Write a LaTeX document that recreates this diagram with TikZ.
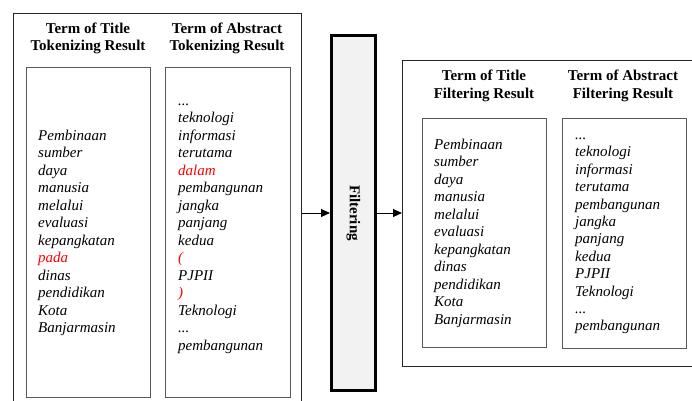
\documentclass[tikz,border=0pt]{standalone}
\usepackage{fontspec}
\setmainfont{Liberation Serif}
\usetikzlibrary{arrows.meta}
\newcommand\myopenpar{(}
\newcommand\myclosepar{)}
\newcommand\mydots{...}
\begin{document}
\begin{tikzpicture}[x=1pt,y=-1pt,
  outerbox/.style={draw=black!85,line width=1.1pt,anchor=north west,inner sep=0pt},
  listbox/.style={draw=black!65,line width=1.1pt,anchor=north west,inner sep=0pt},
  head/.style={font=\fontsize{15}{17.5}\selectfont\bfseries,anchor=base,inner sep=0pt},
  term/.style={font=\fontsize{15}{17.5}\selectfont\itshape,anchor=base west,inner sep=0pt},
  flow/.style={line width=1pt,-{Triangle[length=9pt,width=8pt]}}]
\useasboundingbox (0,0) rectangle (692,400);
\clip (0,0) rectangle (692,400);

% tokenizing stage
\node[outerbox,minimum width=288pt,minimum height=400pt] (tok) at (13,13) {};
\node[listbox,minimum width=124pt,minimum height=330pt] (tokT) at (26,67) {};
\node[listbox,minimum width=125pt,minimum height=330pt] (tokA) at (165,67) {};
\node[head] (hT1) at (88,33) {Term of Title};
\node[head] (hT2) at (88,50) {Tokenizing Result};
\node[head] (hA1) at (227,33) {Term of Abstract};
\node[head] (hA2) at (227,50) {Tokenizing Result};

\foreach \w/\c [count=\i from 0] in {Pembinaan/black,sumber/black,daya/black,
  manusia/black,melalui/black,evaluasi/black,kepangkatan/black,pada/red,
  dinas/black,pendidikan/black,Kota/black,Banjarmasin/black}
  \node[term,text=\c] (tt\i) at (38,140+17.5*\i) {\w};

\foreach \w/\c [count=\i from 0] in {\mydots/black,teknologi/black,informasi/black,
  terutama/black,dalam/red,pembangunan/black,jangka/black,panjang/black,
  kedua/black,\myopenpar/red,PJPII/black,\myclosepar/red,Teknologi/black,
  \mydots/black,pembangunan/black}
  \node[term,text=\c] (ta\i) at (178,105+17.5*\i) {\w};

% filtering process
\node[draw=black,line width=3pt,fill=black!5,minimum width=44pt,minimum height=355pt,
  anchor=north west,inner sep=0pt] (filt) at (330,34) {};
\node[font=\fontsize{15}{17.5}\selectfont\bfseries,rotate=-90,inner sep=0pt] (ftxt) at (filt.center) {Filtering};

% filtering results
\node[outerbox,minimum width=300pt,minimum height=306pt] (res) at (402,60) {};
\node[listbox,minimum width=124pt,minimum height=229pt] (resT) at (422,118) {};
\node[listbox,minimum width=124pt,minimum height=230pt] (resA) at (562,118) {};
\node[head] (rT1) at (484,80) {Term of Title};
\node[head] (rT2) at (484,98) {Filtering Result};
\node[head] (rA1) at (623,80) {Term of Abstract};
\node[head] (rA2) at (623,98) {Filtering Result};

\foreach \w [count=\i from 0] in {Pembinaan,sumber,daya,manusia,melalui,evaluasi,
  kepangkatan,dinas,pendidikan,Kota,Banjarmasin}
  \node[term] (rt\i) at (434,149+17.5*\i) {\w};

\foreach \w [count=\i from 0] in {\mydots,teknologi,informasi,terutama,pembangunan,
  jangka,panjang,kedua,PJPII,Teknologi,\mydots,pembangunan}
  \node[term] (ra\i) at (575,139.5+17.4*\i) {\w};

% connectors
\draw[flow] (filt.west -| tok.east) -- (filt.west);
\draw[flow] (filt.east) -- (filt.east -| res.west);
\end{tikzpicture}
\end{document}
